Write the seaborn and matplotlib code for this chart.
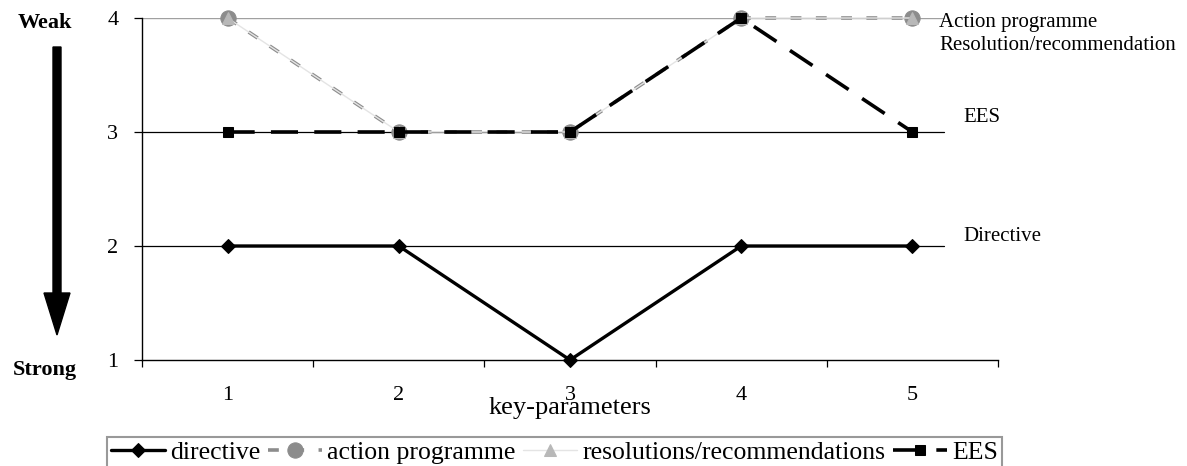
import numpy as np
import pandas as pd
import matplotlib
matplotlib.use("Agg")
import matplotlib.pyplot as plt
from matplotlib.patches import FancyArrow
import seaborn as sns

# data
key_params = [1, 2, 3, 4, 5]
directive = [2, 2, 1, 2, 2]
action_programme = [4, 3, 3, 4, 4]
resolutions = [4, 3, 3, 4, 4]
ees = [3, 3, 3, 4, 3]
level_ticks = [1, 2, 3, 4]

sns.set_theme(style="white")
plt.rcParams["font.family"] = ["Liberation Serif", "DejaVu Serif"]
plt.rcParams["text.color"] = "black"
plt.rcParams["axes.labelcolor"] = "black"
plt.rcParams["xtick.color"] = "black"
plt.rcParams["ytick.color"] = "black"

fig = plt.figure(figsize=(11.87, 4.66), dpi=100)
ax = fig.add_axes([142 / 1187, 1 - 360 / 466, 856 / 1187, 342 / 466])

# reference lines behind the series
ax.axhline(4, xmax=0.937, color="#a0a0a0", lw=1, zorder=1)
ax.axhline(3, xmax=0.937, color="black", lw=0.9, zorder=1)
ax.axhline(2, xmax=0.937, color="black", lw=0.9, zorder=1)

# Step 1: the four series
sns.lineplot(x=key_params, y=action_programme, ax=ax, color="#8c8c8c", lw=2.6,
             linestyle=(0, (3, 4)), marker="o", markersize=11,
             markeredgecolor="#8c8c8c", label="action programme", zorder=3, clip_on=False)
sns.lineplot(x=key_params, y=resolutions, ax=ax, color="#e4e4e4", lw=1,
             marker="^", markersize=8, markerfacecolor="#b8b8b8",
             markeredgecolor="#b8b8b8", label="resolutions/recommendations",
             zorder=4, clip_on=False)
sns.lineplot(x=key_params, y=ees, ax=ax, color="black", lw=2.6,
             linestyle=(0, (7.5, 4.5)), marker="s", markersize=7,
             markeredgecolor="black", label="EES", zorder=5, clip_on=False)
sns.lineplot(x=key_params, y=directive, ax=ax, color="black", lw=2.4,
             marker="D", markersize=7, markeredgecolor="black",
             label="directive", zorder=6, clip_on=False)

# Step 2: axes styling
ax.set_xlim(0.5, 5.5)
ax.set_ylim(1, 4)
ax.set_xticks(key_params)
ax.set_xticks(np.arange(0.5, 6.0, 1.0), minor=True)
ax.set_yticks(level_ticks)
ax.tick_params(axis="x", which="major", length=0, pad=19, labelsize=16)
ax.tick_params(axis="x", which="minor", length=5, width=0.9, direction="out",
               bottom=True, color="black")
ax.tick_params(axis="y", length=6, width=0.9, direction="out", left=True,
               pad=11, labelsize=16)
sns.despine(ax=ax)
for side in ["left", "bottom"]:
    ax.spines[side].set_color("black")
    ax.spines[side].set_linewidth(1)

ax.set_xlabel("key-parameters", fontsize=19)
ax.xaxis.set_label_coords(0.5, -48 / 342)
ax.xaxis.label.set_va("center")
ax.set_ylabel("")

# legend at the bottom, in the reference order
handles, labels = ax.get_legend_handles_labels()
order = ["directive", "action programme", "resolutions/recommendations", "EES"]
hmap = dict(zip(labels, handles))
ax.get_legend().remove()
leg = fig.legend([hmap[k] for k in order], order, loc="upper left",
                 bbox_to_anchor=(107 / 1187, 1 - 437 / 466), ncol=4,
                 fontsize=18.5, frameon=True, fancybox=False, borderaxespad=0,
                 borderpad=0.15, handlelength=2.1, handletextpad=0.2,
                 columnspacing=0.3, numpoints=1)
leg.get_frame().set_edgecolor("#808080")
leg.get_frame().set_linewidth(1.5)

# Step 3: side annotations
fig.text(45 / 1187, 1 - 23 / 466, "Weak", ha="center", va="center",
         fontsize=16, fontweight="bold")
fig.text(45 / 1187, 1 - 370 / 466, "Strong", ha="center", va="center",
         fontsize=16, fontweight="bold")
fig.add_artist(FancyArrow(0.57, 4.19, 0, -2.88, width=0.08, head_width=0.26,
                          head_length=0.42, length_includes_head=True,
                          color="black", transform=fig.dpi_scale_trans))

fig.text(939 / 1187, 1 - 22 / 466, "Action programme", va="center", fontsize=15)
fig.text(939 / 1187, 1 - 46 / 466, "Resolution/recommendation", va="center", fontsize=15)
fig.text(963 / 1187, 1 - 118 / 466, "EES", va="center", fontsize=15)
fig.text(963 / 1187, 1 - 237 / 466, "Directive", va="center", fontsize=15)

fig.savefig("out.png", dpi=100)
